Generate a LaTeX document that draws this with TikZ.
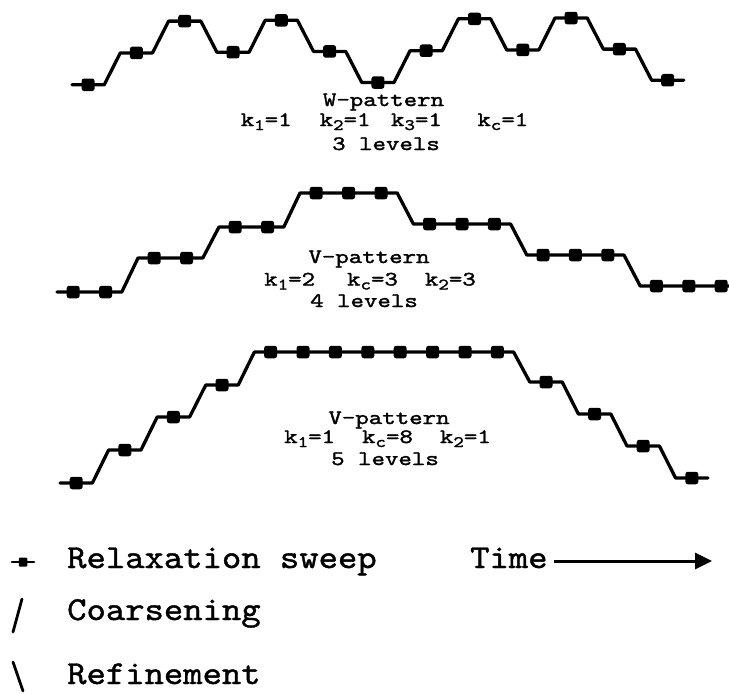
\documentclass[tikz,border=0pt]{standalone}
\usepackage{fontspec}
% typewriter faces: a wide, heavy one for the captions, a plain one for the legend
\newfontfamily\capttfont{lmmono10-regular.otf}[FakeStretch=1.25,FakeBold=1.6]
\newfontfamily\legttfont{lmmono10-regular.otf}[FakeStretch=1.1,FakeBold=1.2]
\usetikzlibrary{arrows.meta}

\newcommand{\capfont}{\capttfont\fontsize{20.5pt}{22pt}\selectfont}
\newcommand{\legfont}{\legttfont\fontsize{33.5pt}{35pt}\selectfont}
% lowered index for the k parameters
\newcommand{\ks}[1]{\raisebox{-4pt}{\fontsize{16pt}{16pt}\selectfont #1}}

\tikzset{
  curve/.style={line width=3.3pt, line join=round, line cap=round},
  sweep/.style={rectangle, fill=black, draw=none, rounded corners=2.5pt,
                minimum width=13pt, minimum height=12.5pt, inner sep=0pt},
  caption/.style={font=\capfont, anchor=base, inner sep=0pt},
  legend/.style={font=\legfont, anchor=base west, inner sep=0pt},
  legmark/.style={line width=2.8pt, line cap=round},
}

\begin{document}
\begin{tikzpicture}[x=1pt, y=-1pt]
\useasboundingbox (0,0) rectangle (729,694);
\clip (0,0) rectangle (729,694);

% ---- W-cycle, 3 levels ----
\draw[curve] (72,84.8) -- (104.2,84.8)
  -- (120.3,52.9) -- (152.5,52.9) -- (168.6,21.1) -- (200.8,21.1)
  -- (216.9,52.2) -- (249.1,52.2) -- (265.2,20.3) -- (297.4,20.3)
  -- (313.5,51.4) -- (345.7,51.4) -- (361.8,82.5) -- (394.0,82.5)
  -- (410.1,50.7) -- (442.3,50.7) -- (458.4,18.8) -- (490.6,18.8)
  -- (506.7,49.9) -- (538.9,49.9) -- (555.0,18.0) -- (587.2,18.0)
  -- (603.3,49.1) -- (635.5,49.1) -- (651.6,80.2) -- (683.8,80.2);
\foreach \px/\py [count=\i] in {88.1/84.8, 136.4/52.9, 184.7/21.1, 233.0/52.2,
    281.3/20.3, 329.6/51.4, 377.9/82.5, 426.2/50.7, 474.5/18.8, 522.8/49.9,
    571.1/18.0, 619.4/49.1, 667.7/80.2}
  \node[sweep] (w\i) at (\px,\py) {};
\node[caption] (w-name) at (383.5,106) {W-pattern};
\node[caption] (w-k) at (384.5,126)
  {k\ks{1}=1\hspace{28pt}k\ks{2}=1\hspace{20.5pt}k\ks{3}=1\hspace{35.5pt}k\ks{c}=1};
\node[caption] (w-lev) at (386,150) {3 levels};

% ---- V-cycle, 4 levels ----
\draw[curve] (57,292) -- (121.8,292) -- (138,258) -- (202.8,258)
  -- (219,227) -- (283.8,227) -- (300,193) -- (397.2,193)
  -- (413.4,224) -- (510.6,224) -- (526.8,255) -- (624,255)
  -- (640.2,286) -- (737.4,286);
\foreach \px/\py [count=\i] in {73.2/292, 105.6/292, 154.2/258, 186.6/258,
    235.2/227, 267.6/227, 316.2/193, 348.6/193, 381/193, 429.6/224, 462/224,
    494.4/224, 543/255, 575.4/255, 607.8/255, 656.4/286, 688.8/286, 721.2/286}
  \node[sweep] (va\i) at (\px,\py) {};
\node[caption] (va-name) at (369,263) {V-pattern};
\node[caption] (va-k) at (370,285.5)
  {k\ks{1}=2\hspace{32pt}k\ks{c}=3\hspace{27pt}k\ks{2}=3};
\node[caption] (va-lev) at (364,307) {4 levels};

% ---- V-cycle, 5 levels ----
\draw[curve] (60,483) -- (92.4,483) -- (108.6,450) -- (141,450)
  -- (157.2,417) -- (189.6,417) -- (205.8,385) -- (238.2,385)
  -- (254.4,352) -- (513.6,352) -- (529.8,382) -- (562.2,382)
  -- (578.4,414) -- (610.8,414) -- (627,446) -- (659.4,446)
  -- (675.6,478) -- (708,478);
\foreach \px/\py [count=\i] in {76.2/483, 124.8/450, 173.4/417, 222/385,
    270.6/352, 303/352, 335.4/352, 367.8/352, 400.2/352, 432.6/352, 465/352,
    497.4/352, 546/382, 594.6/414, 643.2/446, 691.8/478}
  \node[sweep] (vb\i) at (\px,\py) {};
\node[caption] (vb-name) at (389,424) {V-pattern};
\node[caption] (vb-k) at (387.5,443)
  {k\ks{1}=1\hspace{27pt}k\ks{c}=8\hspace{27pt}k\ks{2}=1};
\node[caption] (vb-lev) at (385,465) {5 levels};

% ---- legend ----
\coordinate (ls-a) at (12,562);
\coordinate (ls-b) at (34,562);
\draw[legmark] (ls-a) -- (ls-b);
\node[rectangle, fill=black, minimum width=8.5pt, minimum height=9pt, inner sep=0pt,
      rounded corners=1pt] (ls-sq) at (23,562) {};
\node[legend] (leg-sweep) at (67,568) {Relaxation sweep};

\node[legend] (leg-time) at (470,568) {Time};
\coordinate (time-end) at (712,561);
\draw[line width=3pt, -{Triangle[length=17pt,width=16pt]}]
  ([xshift=6pt]leg-time.east |- time-end) -- (time-end);

\coordinate (co-a) at (13,632);
\coordinate (co-b) at (22,599);
\draw[legmark] (co-a) -- (co-b);
\node[legend] (leg-coarse) at (67,620) {Coarsening};

\coordinate (rf-a) at (13,662);
\coordinate (rf-b) at (23,691);
\draw[legmark] (rf-a) -- (rf-b);
\node[legend] (leg-refine) at (67,684) {Refinement};
\end{tikzpicture}
\end{document}
